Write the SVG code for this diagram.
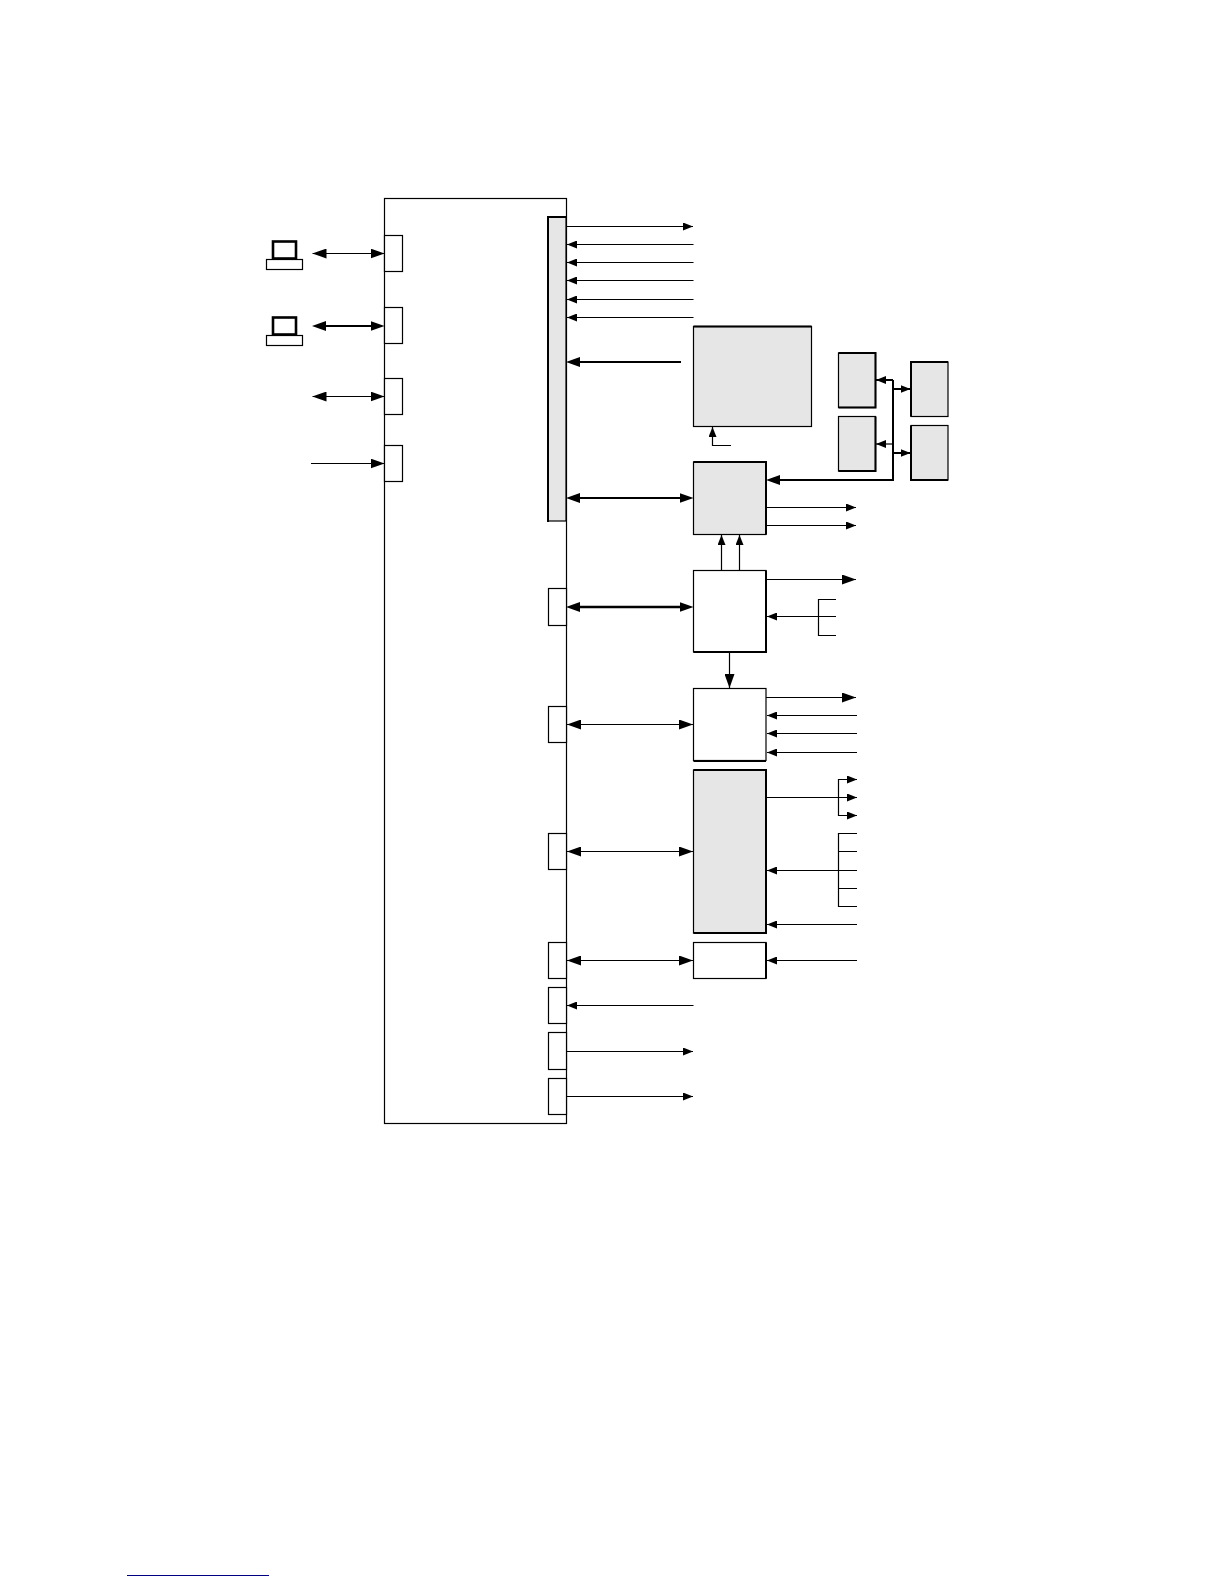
<svg xmlns="http://www.w3.org/2000/svg" width="1224" height="1584" viewBox="0 0 1224 1584">
<style>
.w{fill:#fff;stroke:#000;stroke-width:1.2}
.g{fill:#e6e6e6;stroke:#000;stroke-width:1.2}
.e{fill:none;stroke:#000;stroke-width:2}
.sc{fill:#fff;stroke:#000;stroke-width:2.6}
.t{fill:none;stroke:#000;stroke-width:1.2}
.k{fill:none;stroke:#000;stroke-width:2}
.s3{fill:none;stroke:#000;stroke-width:2.6}
.se{marker-end:url(#sh)}
.le{marker-end:url(#lh)}
.ls{marker-start:url(#lt)}
.ke{marker-end:url(#kh)}
.ks{marker-start:url(#kt)}
</style>
<defs>
<marker id="sh" markerUnits="userSpaceOnUse" markerWidth="10" markerHeight="8" refX="10" refY="4" orient="auto"><path d="M0 0L10 4L0 8Z"/></marker>
<marker id="lh" markerUnits="userSpaceOnUse" markerWidth="14" markerHeight="10" refX="14" refY="5" orient="auto"><path d="M0 0L14 5L0 10Z"/></marker>
<marker id="lt" markerUnits="userSpaceOnUse" markerWidth="14" markerHeight="10" refX="0" refY="5" orient="auto"><path d="M14 0L0 5L14 10Z"/></marker>
<marker id="kh" markerUnits="userSpaceOnUse" markerWidth="14" markerHeight="10" refX="8" refY="5" orient="auto"><path d="M0 0L14 5L0 10Z"/></marker>
<marker id="kt" markerUnits="userSpaceOnUse" markerWidth="14" markerHeight="10" refX="6" refY="5" orient="auto"><path d="M14 0L0 5L14 10Z"/></marker>
</defs>
<g id="main"><rect class="w" x="384.5" y="198.5" width="182" height="925"/></g>
<g id="left-ports">
<rect class="w" x="384.5" y="235.5" width="18" height="36"/>
<rect class="w" x="384.5" y="307.5" width="18" height="36"/>
<rect class="w" x="384.5" y="378.5" width="18" height="36"/>
<rect class="w" x="384.5" y="445.5" width="18" height="36"/>
</g>
<g id="laptop-1">
<rect class="sc" x="273" y="241.500" width="23" height="17"/>
<rect class="w" x="266.500" y="259.500" width="36" height="10"/>
</g>
<g id="laptop-2">
<rect class="sc" x="273" y="317.500" width="23" height="17"/>
<rect class="w" x="266.500" y="335.500" width="36" height="10"/>
</g>
<g id="bar"><rect class="g" x="548" y="217" width="18" height="304"/><path class="e" d="M548 522V217H566"/></g>
<g id="right-ports">
<rect class="w" x="548.500" y="588.500" width="18" height="37"/>
<rect class="w" x="548.500" y="706.500" width="18" height="36"/>
<rect class="w" x="548.500" y="833.500" width="18" height="36"/>
<rect class="w" x="548.500" y="942.500" width="18" height="36"/>
<rect class="w" x="548.500" y="987.500" width="18" height="36"/>
<rect class="w" x="548.500" y="1032.500" width="18" height="37"/>
<rect class="w" x="548.500" y="1078.500" width="18" height="36"/>
</g>
<g id="box-large"><rect class="g" x="693.500" y="326.500" width="118" height="100"/><path class="e" d="M693.500 326.500H811.500"/></g>
<g id="box-a"><rect class="g" x="838.500" y="353" width="37" height="54.500"/><path class="e" d="M838.500 353H875.500V407.500H838.500"/></g>
<g id="box-b"><rect class="g" x="838.500" y="416.500" width="37" height="54.500"/><path class="e" d="M875.500 416.500V471H838.500"/></g>
<g id="box-c"><rect class="g" x="911" y="362" width="37" height="54.500"/><path class="e" d="M911 416.500V362H948"/></g>
<g id="box-d"><rect class="g" x="911" y="425.500" width="37" height="54.500"/><path class="e" d="M911 425.500V480H948"/></g>
<g id="box-2"><rect class="g" x="693.500" y="462" width="72.500" height="72.500"/><path class="e" d="M693.500 462H766V534.500"/></g>
<g id="box-3"><rect class="w" x="693.500" y="570.500" width="72.500" height="81.500"/><path class="e" d="M766 570.500V652H693.500"/></g>
<g id="box-4"><rect class="w" x="693.500" y="688.500" width="72.500" height="72"/><path class="e" d="M766 761H693.500"/></g>
<g id="box-5"><rect class="g" x="693.500" y="770" width="72.500" height="163"/><path class="e" d="M693.500 770H766V933H693.500"/></g>
<g id="box-6"><rect class="w" x="693.500" y="942.500" width="72.500" height="36"/><path class="e" d="M766 942.500V978.500"/></g>
<g id="connectors">
<path class="t le ls" d="M312.500 253.500H384.500"/>
<path class="k ke ks" d="M318 326H378.500"/>
<path class="t le ls" d="M312.500 396.500H384.500"/>
<path class="t le" d="M311 463.500H384.500"/>
<path class="t se" d="M567 226.500H693"/>
<path class="t se" d="M693.500 244.500H567"/>
<path class="t se" d="M693.500 262.500H567"/>
<path class="t se" d="M693.500 280.500H567"/>
<path class="t se" d="M693.500 299.500H567"/>
<path class="t se" d="M693.500 317.500H567"/>
<path class="k ke" d="M681 362H572"/>
<path class="k ke ks" d="M572 498H687.500"/>
<path class="s3 ke ks" d="M572 607H687.500"/>
<path class="t le ls" d="M567 724.500H693"/>
<path class="t le ls" d="M567 851.500H693"/>
<path class="t le ls" d="M567 960.500H693"/>
<path class="t se" d="M693.500 1005.500H567"/>
<path class="t se" d="M567 1051.500H693"/>
<path class="t se" d="M567 1096.500H693"/>
<path class="t se" d="M731 445.500H712.500V427"/>
<path class="k ke" d="M893 380V480H772"/>
<path class="k se" d="M893 380H876"/>
<path class="t se" d="M893 444H876"/>
<path class="k se" d="M893 389H910.500"/>
<path class="k se" d="M893 453H910.500"/>
<path class="t se" d="M766 507.500H856"/>
<path class="t se" d="M766 525.500H856"/>
<path class="t se" d="M721.500 570V535"/>
<path class="t se" d="M739.500 570V535"/>
<path class="t le" d="M766 579.500H856"/>
<path class="t se" d="M836 616.500H767"/>
<path class="t" d="M836 599.500H818.500V635.500H836"/>
<path class="t le" d="M729.500 652V688"/>
<path class="t le" d="M766 697.500H856"/>
<path class="t se" d="M857 715.500H767"/>
<path class="t se" d="M857 733.500H767"/>
<path class="t se" d="M857 752.500H767"/>
<path class="t se" d="M766 797.500H857"/>
<path class="t se" d="M838.500 797.500V779.500H857"/>
<path class="t se" d="M838.500 797.500V815.500H857"/>
<path class="t" d="M857 833.500H838.500V906.500H857M838.500 851.500H857M838.500 888.500H857"/>
<path class="t se" d="M857 870.500H767"/>
<path class="t se" d="M857 924.500H767"/>
<path class="t se" d="M857 960.500H767"/>
</g>
<g id="footer-rule"><path d="M127 1575.500H269" fill="none" stroke="#000080" stroke-width="1"/></g>
</svg>
